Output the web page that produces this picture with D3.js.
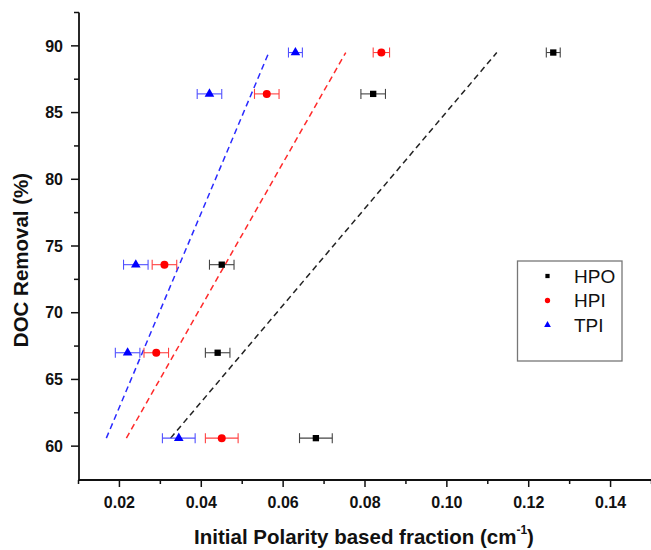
<!DOCTYPE html>
<html><head><meta charset="utf-8">
<script src="https://cdn.jsdelivr.net/npm/d3@7"></script>
<style>body{margin:0;background:#fff}svg{display:block}</style>
</head><body>
<svg id="c" width="651" height="550"></svg>
<script>
// DOC removal (%) for each sample
const removal = [89.5, 86.4, 73.6, 67.0, 60.6];
// Initial polarity-based fraction (cm-1) per series
const hpoX = [0.126, 0.082, 0.045, 0.044, 0.068];
const hpiX = [0.084, 0.056, 0.031, 0.029, 0.045];
const tpiX = [0.063, 0.042, 0.024, 0.022, 0.0345];
// horizontal error (+/-)
const hpoErr = [0.0017, 0.003, 0.003, 0.003, 0.004];
const hpiErr = [0.002, 0.003, 0.003, 0.003, 0.004];
const tpiErr = [0.0017, 0.003, 0.003, 0.003, 0.004];
// dashed trend lines endpoints (x at y-start, x at y-end)
const fitY = [60.6, 89.5];
const hpoFit = [0.0325, 0.1122];
const hpiFit = [0.0217, 0.0753];
const tpiFit = [0.0168, 0.0565];
const seriesNames = ["HPO", "HPI", "TPI"];
const xTicks = [0.02, 0.04, 0.06, 0.08, 0.10, 0.12, 0.14];
const yTicks = [60, 65, 70, 75, 80, 85, 90];

const svg = d3.select("#c");
const x = d3.scaleLinear().domain([0.01, 0.15]).range([78.5, 651.5]);
const y = d3.scaleLinear().domain([57.5, 92.5]).range([479.5, 12.5]);

const series = [
  {name: seriesNames[0], xs: hpoX, err: hpoErr, fit: hpoFit, color: "#000", errColor: "#444", lineColor: "#222", shape: d3.symbolSquare, size: 40},
  {name: seriesNames[1], xs: hpiX, err: hpiErr, fit: hpiFit, color: "#ff0000", errColor: "#ff4040", lineColor: "#ff2a2a", shape: d3.symbolCircle, size: 50},
  {name: seriesNames[2], xs: tpiX, err: tpiErr, fit: tpiFit, color: "#0000ff", errColor: "#5050ff", lineColor: "#2a2aff", shape: d3.symbolTriangle, size: 40}
];

// trend lines
series.forEach(s => {
  svg.append("line")
    .attr("x1", x(s.fit[0])).attr("y1", y(fitY[0]))
    .attr("x2", x(s.fit[1])).attr("y2", y(fitY[1]))
    .attr("stroke", s.lineColor).attr("stroke-width", 1.5)
    .attr("stroke-dasharray", "6,4");
});

// error bars and markers
series.forEach(s => {
  const g = svg.append("g");
  s.xs.forEach((v, i) => {
    const cy = y(removal[i]);
    const x0 = x(v - s.err[i]), x1 = x(v + s.err[i]);
    g.append("line").attr("x1", x0).attr("x2", x1).attr("y1", cy).attr("y2", cy)
      .attr("stroke", s.errColor).attr("stroke-width", 1.1);
    [x0, x1].forEach(xx => g.append("line").attr("x1", xx).attr("x2", xx)
      .attr("y1", cy - 5).attr("y2", cy + 5).attr("stroke", s.errColor).attr("stroke-width", 1.1));
    g.append("path").attr("d", d3.symbol().type(s.shape).size(s.size)())
      .attr("transform", `translate(${x(v)},${cy})`).attr("fill", s.color);
  });
});

// axes
const font = "'Liberation Sans', Arial, sans-serif";
const xAxis = svg.append("g").attr("transform", "translate(0,480)");
xAxis.append("line").attr("x1", 78.5).attr("x2", 651).attr("y1", 0).attr("y2", 0)
  .attr("stroke", "#111").attr("stroke-width", 1.8);
d3.range(0.01, 0.1501, 0.01).forEach(t => {
  const major = xTicks.some(m => Math.abs(m - t) < 1e-9);
  xAxis.append("line").attr("x1", x(t)).attr("x2", x(t)).attr("y1", 0).attr("y2", major ? 7 : 4)
    .attr("stroke", "#111").attr("stroke-width", 1.5);
});
xTicks.forEach(t => xAxis.append("text").attr("x", x(t)).attr("y", 28)
  .attr("text-anchor", "middle").attr("font-family", font).attr("font-weight", "bold")
  .attr("font-size", 16).attr("fill", "#111").text(d3.format(".2f")(t)));

const yAxis = svg.append("g").attr("transform", "translate(79,0)");
yAxis.append("line").attr("x1", 0).attr("x2", 0).attr("y1", y(92.5)).attr("y2", 481)
  .attr("stroke", "#111").attr("stroke-width", 1.8);
d3.range(60, 92.51, 2.5).forEach(t => {
  const major = yTicks.includes(t);
  yAxis.append("line").attr("x1", 0).attr("x2", major ? -8 : -5).attr("y1", y(t)).attr("y2", y(t))
    .attr("stroke", "#111").attr("stroke-width", 1.5);
});
yTicks.forEach(t => yAxis.append("text").attr("x", -16).attr("y", y(t)).attr("dy", "0.36em")
  .attr("text-anchor", "end").attr("font-family", font).attr("font-weight", "bold")
  .attr("font-size", 16).attr("fill", "#111").text(t));

// axis titles
svg.append("text").attr("transform", "translate(28,260) rotate(-90)")
  .attr("text-anchor", "middle").attr("font-family", font).attr("font-weight", "bold")
  .attr("font-size", 20.5).attr("fill", "#111").text("DOC Removal (%)");
const xt = svg.append("text").attr("x", 364).attr("y", 544)
  .attr("text-anchor", "middle").attr("font-family", font).attr("font-weight", "bold")
  .attr("font-size", 20.5).attr("fill", "#111");
xt.append("tspan").text("Initial Polarity based fraction (cm");
xt.append("tspan").attr("font-size", 12).attr("dy", -10).text("-1");
xt.append("tspan").attr("dy", 10).text(")");

// legend
const lg = svg.append("g");
lg.append("rect").attr("x", 517.5).attr("y", 261).attr("width", 104.5).attr("height", 100)
  .attr("fill", "#fff").attr("stroke", "#777").attr("stroke-width", 1.3);
const legMark = [18, 22, 20];
series.forEach((s, i) => {
  const cy = 276 + i * 24.5;
  lg.append("path").attr("d", d3.symbol().type(s.shape).size(legMark[i])())
    .attr("transform", `translate(547.5,${cy})`).attr("fill", s.color);
  lg.append("text").attr("x", 574).attr("y", cy).attr("dy", "0.36em")
    .attr("font-family", font).attr("font-size", 19).attr("fill", "#111").text(s.name);
});
</script>
</body></html>
